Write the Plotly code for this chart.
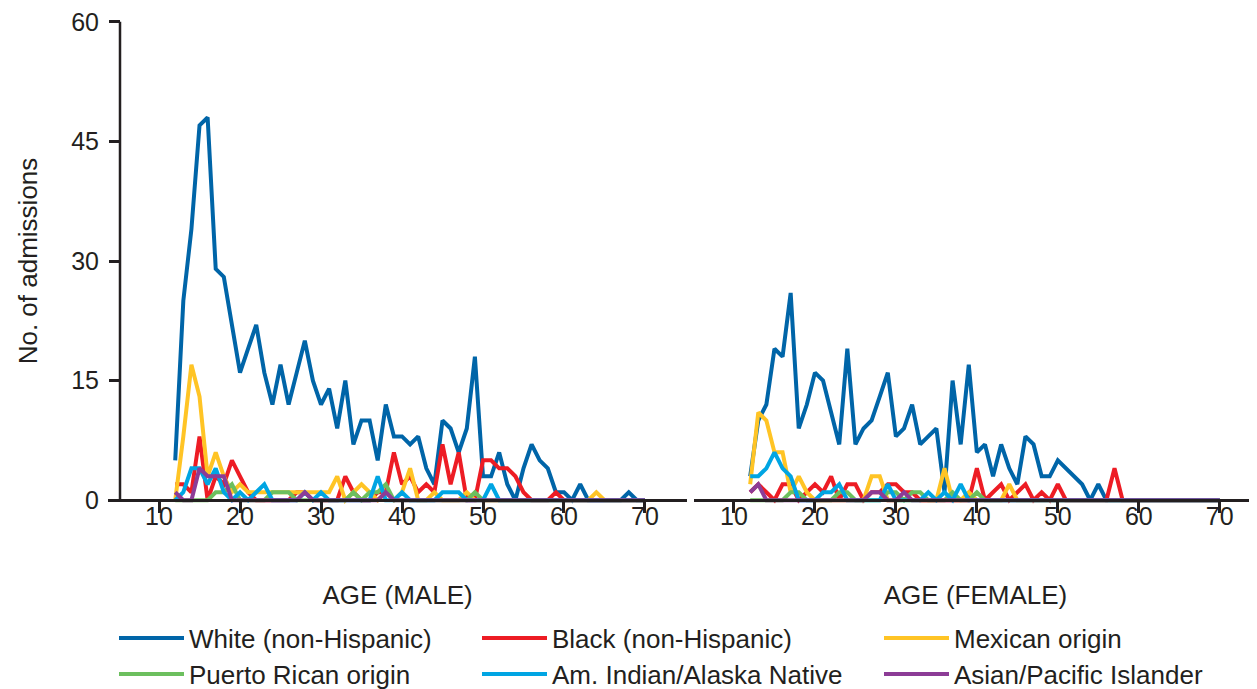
import plotly.graph_objects as go

ages = list(range(12, 71))

groups = ['White (non-Hispanic)', 'Black (non-Hispanic)', 'Mexican origin',
          'Puerto Rican origin', 'Am. Indian/Alaska Native', 'Asian/Pacific Islander']
colors = ['#0065A8', '#ED1C24', '#FFC425', '#6CBF5E', '#00A5E3', '#8C3C96']

# ages 12-19 | 20-29 | 30-39 | 40-49 | 50-59 | 60-70
male_white = [5, 25, 34, 47, 48, 29, 28, 22,
              16, 19, 22, 16, 12, 17, 12, 16, 20, 15,
              12, 14, 9, 15, 7, 10, 10, 5, 12, 8,
              8, 7, 8, 4, 2, 10, 9, 6, 9, 18,
              3, 3, 6, 2, 0, 4, 7, 5, 4, 1,
              1, 0, 2, 0, 0, 0, 0, 0, 1, 0, 0]
male_black = [2, 2, 1, 8, 0, 3, 2, 5,
              3, 1, 0, 0, 0, 0, 0, 1, 1, 0,
              0, 0, 0, 3, 1, 0, 0, 1, 1, 6,
              2, 3, 1, 2, 1, 7, 2, 6, 0, 0,
              5, 5, 4, 4, 3, 1, 0, 0, 0, 1,
              0, 0, 0, 0, 0, 0, 0, 0, 0, 0, 0]
male_mexican = [0, 8, 17, 13, 3, 6, 3, 1,
                2, 1, 1, 1, 1, 1, 1, 1, 1, 1,
                1, 1, 3, 0, 1, 2, 1, 0, 1, 0,
                1, 4, 0, 0, 1, 0, 0, 0, 1, 0,
                0, 0, 0, 0, 0, 0, 0, 0, 0, 0,
                0, 0, 0, 0, 1, 0, 0, 0, 0, 0, 0]
male_puerto = [0, 0, 0, 0, 0, 1, 1, 2,
               0, 0, 0, 0, 1, 1, 1, 0, 0, 0,
               0, 0, 0, 0, 1, 0, 1, 1, 2, 0,
               0, 0, 0, 0, 0, 0, 0, 0, 0, 1,
               0, 0, 0, 0, 0, 0, 0, 0, 0, 0,
               0, 0, 0, 0, 0, 0, 0, 0, 0, 0, 0]
male_amind = [0, 1, 4, 4, 2, 4, 1, 0,
              1, 0, 1, 2, 0, 0, 0, 0, 1, 0,
              1, 0, 0, 0, 0, 0, 0, 3, 0, 0,
              1, 0, 0, 0, 0, 1, 1, 1, 0, 0,
              0, 2, 0, 0, 0, 0, 0, 0, 0, 0,
              0, 0, 0, 0, 0, 0, 0, 0, 0, 0, 0]
male_asian = [1, 0, 0, 4, 3, 3, 3, 0,
              0, 0, 0, 0, 0, 0, 0, 0, 1, 0,
              0, 0, 0, 0, 0, 0, 0, 0, 1, 0,
              0, 0, 0, 0, 0, 0, 0, 0, 0, 0,
              0, 0, 0, 0, 0, 0, 0, 0, 0, 0,
              0, 0, 0, 0, 0, 0, 0, 0, 0, 0, 0]

female_white = [3, 10, 12, 19, 18, 26, 9, 12,
                16, 15, 11, 7, 19, 7, 9, 10, 13, 16,
                8, 9, 12, 7, 8, 9, 1, 15, 7, 17,
                6, 7, 3, 7, 4, 2, 8, 7, 3, 3,
                5, 4, 3, 2, 0, 2, 0, 0, 0, 0,
                0, 0, 0, 0, 0, 0, 0, 0, 0, 0, 0]
female_black = [1, 2, 1, 0, 2, 2, 0, 1,
                2, 1, 3, 0, 2, 2, 0, 1, 1, 2,
                2, 1, 1, 0, 0, 0, 0, 0, 0, 0,
                4, 0, 1, 2, 0, 1, 2, 0, 1, 0,
                2, 0, 0, 0, 0, 0, 0, 4, 0, 0,
                0, 0, 0, 0, 0, 0, 0, 0, 0, 0, 0]
female_mexican = [2, 11, 10, 6, 6, 1, 3, 1,
                  0, 0, 0, 0, 0, 0, 0, 3, 3, 0,
                  0, 0, 0, 0, 0, 0, 4, 0, 0, 1,
                  0, 0, 0, 0, 2, 0, 0, 0, 0, 0,
                  0, 0, 0, 0, 0, 0, 0, 0, 0, 0,
                  0, 0, 0, 0, 0, 0, 0, 0, 0, 0, 0]
female_puerto = [0, 0, 0, 0, 0, 1, 1, 0,
                 0, 0, 0, 1, 1, 0, 0, 0, 0, 1,
                 1, 0, 1, 1, 0, 0, 0, 1, 0, 0,
                 1, 0, 0, 0, 0, 0, 0, 0, 0, 0,
                 0, 0, 0, 0, 0, 0, 0, 0, 0, 0,
                 0, 0, 0, 0, 0, 0, 0, 0, 0, 0, 0]
female_amind = [3, 3, 4, 6, 4, 3, 0, 0,
                0, 1, 1, 2, 0, 0, 0, 0, 0, 2,
                0, 0, 0, 0, 1, 0, 1, 0, 2, 0,
                0, 0, 0, 0, 0, 0, 0, 0, 0, 0,
                0, 0, 0, 0, 0, 0, 0, 0, 0, 0,
                0, 0, 0, 0, 0, 0, 0, 0, 0, 0, 0]
female_asian = [1, 2, 0, 0, 0, 0, 0, 0,
                0, 0, 0, 0, 0, 0, 0, 1, 1, 0,
                0, 1, 0, 0, 0, 0, 0, 0, 0, 0,
                0, 0, 0, 0, 0, 0, 0, 0, 0, 0,
                0, 0, 0, 0, 0, 0, 0, 0, 0, 0,
                0, 0, 0, 0, 0, 0, 0, 0, 0, 0, 0]

male = [male_white, male_black, male_mexican, male_puerto, male_amind, male_asian]
female = [female_white, female_black, female_mexican, female_puerto, female_amind, female_asian]

ink = '#231F20'
family = 'Liberation Sans, Arial, sans-serif'
tick_font = dict(family=family, size=25, color=ink)
big_font = dict(family=family, size=26, color=ink)

# legend column widths (px) so the three columns line up like the original
col_width = [283, 322, 300]

fig = go.Figure()
for i, name in enumerate(groups):
    # first three go in the top legend row, the rest in the second row
    leg = 'legend' if i < 3 else 'legend2'
    fig.add_trace(go.Scatter(x=ages, y=male[i], name=name, mode='lines',
                             line=dict(color=colors[i], width=4),
                             legendgroup=name, legend=leg,
                             legendwidth=col_width[i % 3],
                             xaxis='x', yaxis='y'))
    fig.add_trace(go.Scatter(x=ages, y=female[i], name=name, mode='lines',
                             line=dict(color=colors[i], width=4),
                             legendgroup=name, showlegend=False,
                             xaxis='x2', yaxis='y'))

# the page body adds an 8px offset, so the figure is 8px smaller than the window
# paper spans x 100..1249, y 9..497 in figure pixels
paper_w, paper_h = 1149, 488
ymin, ymax = -0.6, 60.6
x_pos = 0.6 / (ymax - ymin)
y_pos = 12 / paper_w
xaxis_common = dict(showline=True, linecolor=ink, linewidth=2.5, ticks='outside',
                    ticklen=11, tickwidth=2.5, tickcolor=ink, tickfont=tick_font,
                    ticklabelstandoff=-18, ticklabeloverflow='allow',
                    tickvals=[10, 20, 30, 40, 50, 60, 70], showgrid=False,
                    zeroline=False, anchor='free', position=x_pos, automargin=False)

legend_common = dict(orientation='h', font=big_font, bgcolor='rgba(0,0,0,0)',
                     itemwidth=65, xanchor='left', yanchor='middle',
                     x=6 / paper_w, itemclick=False)

fig.update_layout(
    width=1249, height=681,
    margin=dict(l=100, r=0, t=9, b=184, autoexpand=False),
    plot_bgcolor='white', paper_bgcolor='white',
    font=big_font,
    xaxis=dict(domain=[0, 0.504], range=[3.7, 75.2],
               title=dict(text='AGE (MALE)', font=big_font, standoff=56),
               **xaxis_common),
    xaxis2=dict(domain=[0.51, 1], range=[5.06, 74.6],
                title=dict(text='AGE (FEMALE)', font=big_font, standoff=56),
                **xaxis_common),
    yaxis=dict(range=[ymin, ymax], tickvals=[0, 15, 30, 45, 60], ticks='outside',
               ticklen=11, tickwidth=2.5, tickcolor=ink, tickfont=tick_font,
               ticklabelstandoff=5, ticklabeloverflow='allow',
               showline=False, showgrid=False, zeroline=False,
               anchor='free', position=y_pos, automargin=False,
               title=dict(text='No. of admissions', font=big_font, standoff=25)),
    legend=dict(y=-(638 - 505) / paper_h, **legend_common),
    legend2=dict(y=-(674 - 505) / paper_h, **legend_common),
    shapes=[dict(type='line', xref='paper', yref='y', x0=y_pos, x1=y_pos,
                 y0=0, y1=60, line=dict(color=ink, width=2.5))],
)

fig.write_html('out.html')
